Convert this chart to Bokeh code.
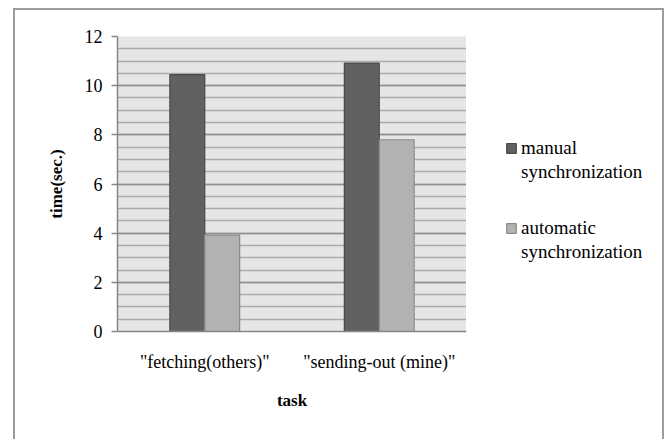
from bokeh.plotting import figure
from bokeh.models import FactorRange, FixedTicker, Legend, LegendItem
from bokeh.layouts import row
from bokeh.transform import dodge
from bokeh.embed import file_html
from bokeh.resources import INLINE

tasks = ['"fetching(others)"', '"sending-out (mine)"']
manual = [10.45, 10.92]
automatic = [3.92, 7.8]
series_names = [["manual", "synchronization"], ["automatic", "synchronization"]]
series_colors = ["#616161", "#b2b2b2"]
series_lines = ["#4a4a4a", "#8a8a8a"]
y_ticks = [0, 2, 4, 6, 8, 10, 12]

FONT = "'Liberation Serif', serif"

p = figure(
    x_range=FactorRange(*tasks, range_padding=0),
    y_range=(0, 12),
    width=451, height=431,
    output_backend="svg", toolbar_location=None,
    min_border_left=102, min_border_top=26, min_border_right=0, min_border_bottom=110,
    background_fill_color="#e6e6e6", border_fill_color="white",
)
p.outline_line_color = None

src = dict(task=tasks, manual=manual, automatic=automatic)
p.vbar(x=dodge("task", -0.1, range=p.x_range), top="manual", width=0.2, source=src,
       fill_color=series_colors[0], line_color=series_lines[0], line_width=1.2)
p.vbar(x=dodge("task", 0.1, range=p.x_range), top="automatic", width=0.2, source=src,
       fill_color=series_colors[1], line_color=series_lines[1], line_width=1.2)

# axes
p.yaxis.ticker = FixedTicker(ticks=y_ticks, minor_ticks=[i * 0.5 for i in range(25)])
p.yaxis.minor_tick_line_color = None
p.yaxis.major_tick_in = 0
p.yaxis.major_tick_out = 6
for ax in (p.xaxis, p.yaxis):
    ax.axis_line_color = "#868686"
    ax.axis_line_width = 1.5
    ax.major_tick_line_color = "#868686"
    ax.major_label_text_font = FONT
    ax.major_label_text_font_size = "18px"
    ax.major_label_text_color = "black"
    ax.axis_label_text_font = FONT
    ax.axis_label_text_font_style = "bold"
    ax.axis_label_text_font_size = "17px"
    ax.axis_label_text_color = "black"
p.xaxis.major_tick_line_color = None
p.yaxis.major_tick_line_width = 1.5
p.xaxis.major_label_text_font_size = "18px"
p.yaxis.major_label_standoff = 9
p.xaxis.major_label_standoff = 14
p.xaxis.axis_label = "task"
p.yaxis.axis_label = "time(sec.)"
p.xaxis.axis_label_standoff = 16
p.yaxis.axis_label_standoff = 16

# grid
p.xgrid.grid_line_color = None
p.ygrid.grid_line_color = "#8e8e8e"
p.ygrid.grid_line_width = 1.5
p.ygrid.minor_grid_line_color = "#ababab"
p.ygrid.minor_grid_line_width = 1.5

# legend panel (separate figure to the right, inside the same outer box)
lg = figure(width=196, height=431, x_range=(0, 1), y_range=(0, 1),
            output_backend="svg", toolbar_location=None,
            x_axis_location=None, y_axis_location=None,
            min_border=0, border_fill_color="white", background_fill_color="white")
lg.outline_line_color = None
lg.grid.visible = False
# legend-key glyphs only (placed outside the visible range)
keysrc = dict(x=[-10.0], top=[0.0])
k1 = lg.vbar(x="x", top="top", width=0.1, source=keysrc,
             fill_color=series_colors[0], line_color=series_lines[0], line_width=1.2)
k2 = lg.vbar(x="x", top="top", width=0.1, source=keysrc,
             fill_color=series_colors[1], line_color=series_lines[1], line_width=1.2)
blank = lg.vbar(x="x", top="top", width=0.1, source=keysrc, fill_alpha=0, line_alpha=0)

for keys, lines, loc in ((k1, series_names[0], (39, 148)), (k2, series_names[1], (39, 68))):
    lgd = Legend(
        items=[LegendItem(label=lines[0], renderers=[keys]),
               LegendItem(label=lines[1], renderers=[blank])],
        location=loc,
        label_text_font=FONT, label_text_font_size="19px", label_text_color="black",
        label_height=21,
        glyph_width=12, glyph_height=12, label_standoff=4,
        spacing=2, padding=0, margin=0,
        background_fill_alpha=0, border_line_color=None,
    )
    lg.add_layout(lgd)

layout = row(p, lg, spacing=0,
             styles={"margin-left": "13px", "margin-top": "8px", "border": "2px solid #9c9c9c"})

open("out.html", "w").write(file_html(layout, INLINE))
